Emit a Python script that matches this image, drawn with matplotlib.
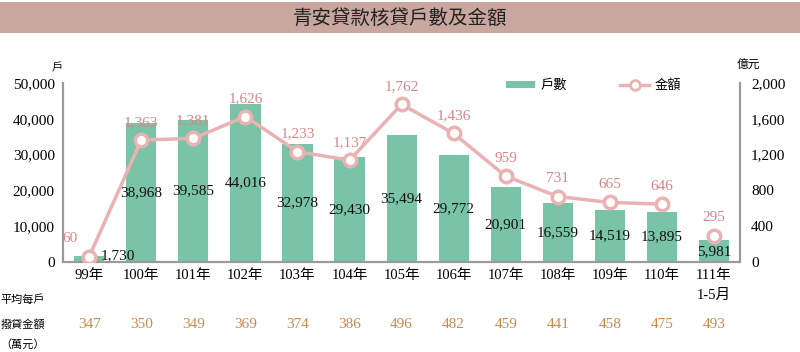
import matplotlib
matplotlib.use("Agg")
import matplotlib.pyplot as plt
from matplotlib.patches import Rectangle
from matplotlib.lines import Line2D
from matplotlib.patches import Patch

categories = ["99年", "100年", "101年", "102年", "103年", "104年", "105年",
              "106年", "107年", "108年", "109年", "110年", "111年\n1-5月"]
households = [1730, 38968, 39585, 44016, 32978, 29430, 35494,
              29772, 20901, 16559, 14519, 13895, 5981]
amounts = [60, 1363, 1381, 1626, 1233, 1137, 1762, 1436, 959, 731, 665, 646, 295]
avg_per_household = [347, 350, 349, 369, 374, 386, 496, 482, 459, 441, 458, 475, 493]

title = "青安貸款核貸戶數及金額"
FAM = ["Liberation Serif", "Noto Sans CJK TC", "DejaVu Sans"]
CJK = ["Noto Sans CJK TC", "DejaVu Sans"]
plt.rcParams["font.family"] = FAM

bar_color = "#79c3a6"
line_color = "#eab2b2"
label_pink = "#d98488"
orange = "#c98a4e"
spine_grey = "#9a9a9a"

fig = plt.figure(figsize=(8, 3.52), dpi=100)

# title banner
fig.patches.append(Rectangle((0.0, 0.905), 1.0, 0.088, transform=fig.transFigure,
                             facecolor="#c9a69e", edgecolor="none", zorder=0))
fig.text(0.5, 0.949, title, ha="center", va="center", fontsize=14,
         family=CJK, color="#222222")

ax = fig.add_axes([0.079, 0.256, 0.846, 0.508])
ax2 = ax.twinx()

x = list(range(len(categories)))
ax.bar(x, households, width=0.58, color=bar_color, zorder=2)
ax.set_ylim(0, 50000)
ax.set_xlim(-0.5, len(categories) - 0.5)
ax.set_yticks(range(0, 50001, 10000))
ax.set_yticklabels([f"{v:,}" for v in range(0, 50001, 10000)], fontsize=11)
ax.set_xticks(x)
ax.set_xticklabels(categories, fontsize=10.5, linespacing=1.7, va="top")
ax.tick_params(axis="both", length=0, pad=6)
ax.tick_params(axis="x", pad=5)

for i, v in enumerate(households):
    if i == 0:
        ax.text(i + 0.22, v, f"{v:,}", ha="left", va="center", fontsize=11,
                color="#111111", zorder=5)
    else:
        ax.text(i, v / 2, f"{v:,}", ha="center", va="center", fontsize=11,
                color="#111111", zorder=5)

ax2.set_ylim(0, 2000)
ax2.set_yticks(range(0, 2001, 400))
ax2.set_yticklabels([f"{v:,}" for v in range(0, 2001, 400)], fontsize=11)
ax2.tick_params(axis="y", length=0, pad=8)

ax2.plot(x[:-1], amounts[:-1], color=line_color, lw=2.5, marker="o", ms=9,
         mfc="white", mec=line_color, mew=2.5, zorder=4)
ax2.plot(x[-1:], amounts[-1:], color=line_color, lw=2.5, marker="o", ms=9,
         mfc="white", mec=line_color, mew=2.5, zorder=4)
for i, v in enumerate(amounts):
    if i == 0:
        ax2.annotate(f"{v:,}", (i, v), xytext=(-8, 8), textcoords="offset points",
                     ha="right", va="bottom", fontsize=11, color=label_pink)
    else:
        ax2.annotate(f"{v:,}", (i, v), xytext=(0, 8), textcoords="offset points",
                     ha="center", va="bottom", fontsize=11, color=label_pink)

for a in (ax, ax2):
    a.spines["top"].set_visible(False)
    for s in ("left", "right", "bottom"):
        a.spines[s].set_color(spine_grey)
        a.spines[s].set_linewidth(1.5)
ax2.patch.set_visible(False)

# unit labels
fig.text(0.071, 0.805, "戶", family=CJK, fontsize=8, ha="center", va="center")
fig.text(0.935, 0.815, "億元", family=CJK, fontsize=8.5, ha="center", va="center")

# legend
handles = [Patch(facecolor=bar_color, edgecolor="none"),
           Line2D([0], [0], color=line_color, lw=2.5, marker="o", ms=7,
                  mfc="white", mec=line_color, mew=2)]
fig.legend(handles, ["戶數", "金額"], loc="center", ncol=2,
           bbox_to_anchor=(0.742, 0.757), frameon=False,
           prop={"family": CJK, "size": 9.5}, columnspacing=4.0,
           handlelength=2.2, handleheight=0.5, handletextpad=0.4)

# bottom table
fig.text(0.028, 0.148, "平均每戶", family=CJK, fontsize=8, ha="center", va="center")
fig.text(0.028, 0.077, "撥貸金額", family=CJK, fontsize=8, ha="center", va="center")
fig.text(0.028, 0.02, "（萬元）", family=CJK, fontsize=8, ha="center", va="center")
for i, v in enumerate(avg_per_household):
    ax.annotate(f"{v}", (i, 0), xycoords=("data", "axes fraction"),
                xytext=(0, -45), textcoords="offset points", ha="center",
                va="center", fontsize=11, color=orange, annotation_clip=False)

fig.savefig("out.png", dpi=100)
